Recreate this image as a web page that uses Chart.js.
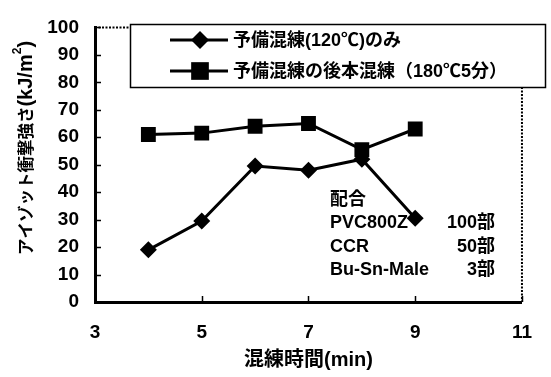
<!DOCTYPE html>
<html><head><meta charset="utf-8">
<script src="https://cdn.jsdelivr.net/npm/chart.js@4"></script>
<style>html,body{margin:0;padding:0;background:#fff}</style>
</head><body>
<canvas id="c" width="551" height="377" style="display:block;width:551px;height:377px"></canvas>
<script>
// ---- data ----
const mixTimes = [4, 5, 6, 7, 8, 9];
const preOnly  = [19, 29.5, 49.5, 48, 52, 30.5];
const preMain  = [61, 61.5, 64, 65, 55.5, 63];
const seriesNames = ["予備混練(120℃)のみ", "予備混練の後本混練（180℃5分）"];
const xTickValues = [3, 5, 7, 9, 11];
const yTickValues = [0, 10, 20, 30, 40, 50, 60, 70, 80, 90, 100];
const recipeTitle = "配合";
const recipeNames = ["PVC800Z", "CCR", "Bu-Sn-Male"];
const recipeParts = ["100部", "50部", "3部"];
const xTitle = "混練時間(min)";
const yTitleParts = ["アイゾット衝撃強さ", "(kJ/m", "2", ")"];

const FONT = "'Liberation Sans', Arial, 'Noto Sans CJK JP', sans-serif";
const CJK = "'Noto Sans CJK JP', sans-serif";

function pts(xs, ys) { return xs.map((x, i) => ({x: x, y: ys[i]})); }

const decor = {
  id: 'decor',
  afterDraw(chart) {
    const ctx = chart.ctx;
    const a = chart.chartArea;
    const xs = chart.scales.x, ys = chart.scales.y;
    ctx.save();
    // dotted top/right frame
    ctx.strokeStyle = '#000';
    ctx.lineWidth = 2;
    ctx.setLineDash([2, 1.5]);
    ctx.beginPath();
    ctx.moveTo(a.left, a.top);
    ctx.lineTo(a.right, a.top);
    ctx.lineTo(a.right, a.bottom);
    ctx.stroke();
    ctx.setLineDash([]);
    // inward ticks
    ctx.lineWidth = 1.5;
    ctx.beginPath();
    yTickValues.forEach(v => {
      const y = Math.round(ys.getPixelForValue(v)) + 0.5;
      ctx.moveTo(a.left, y); ctx.lineTo(a.left + 6, y);
    });
    xTickValues.forEach(v => {
      const x = Math.round(xs.getPixelForValue(v)) + 0.5;
      ctx.moveTo(x, a.bottom); ctx.lineTo(x, a.bottom - 6);
    });
    ctx.stroke();

    // y-axis title (rotated)
    ctx.fillStyle = '#000';
    ctx.textBaseline = 'middle';
    ctx.textAlign = 'left';
    const fonts = ["bold 16.5px " + CJK, "bold 20px " + FONT, "bold 12px " + FONT, "bold 20px " + FONT];
    const lifts = [0, 0, -8, 0];
    let widths = yTitleParts.map((t, i) => { ctx.font = fonts[i]; return ctx.measureText(t).width; });
    const total = widths.reduce((s, w) => s + w, 0);
    ctx.save();
    ctx.translate(25, 148);
    ctx.rotate(-Math.PI / 2);
    let px = -total / 2;
    yTitleParts.forEach((t, i) => {
      ctx.font = fonts[i];
      ctx.fillText(t, px, 1 + lifts[i]);
      px += widths[i];
    });
    ctx.restore();

    // legend box
    const lx = 130, ly = 24, lw = 415, lh = 63;
    ctx.fillStyle = '#fff';
    ctx.fillRect(lx, ly, lw, lh);
    ctx.lineWidth = 1.5;
    ctx.strokeStyle = '#000';
    ctx.strokeRect(lx + 0.5, ly + 0.5, lw, lh);
    const rows = [40, 71];
    const styles = ['rectRot', 'rect'];
    const radii = [9, 12.5];
    ctx.font = "bold 18px " + FONT;
    ctx.textBaseline = 'middle';
    ctx.textAlign = 'left';
    seriesNames.forEach((name, i) => {
      const y = rows[i];
      ctx.strokeStyle = '#000';
      ctx.lineWidth = 3;
      ctx.beginPath();
      ctx.moveTo(170, y); ctx.lineTo(228, y);
      ctx.stroke();
      ctx.fillStyle = '#000';
      Chart.helpers.drawPoint(ctx, {pointStyle: styles[i], radius: radii[i], borderWidth: 0}, 200, y);
      ctx.fillStyle = '#000';
      ctx.fillText(name, 233, y + 1);
    });

    // recipe annotation
    ctx.fillStyle = '#000';
    ctx.font = "bold 18px " + FONT;
    ctx.textAlign = 'left';
    ctx.fillText(recipeTitle, 330, 200);
    const ry = [223, 247, 270];
    recipeNames.forEach((n, i) => {
      ctx.textAlign = 'left';
      ctx.fillText(n, 330, ry[i]);
      ctx.textAlign = 'right';
      ctx.fillText(recipeParts[i], 495, ry[i]);
    });
    ctx.restore();
  }
};

new Chart(document.getElementById('c'), {
  type: 'line',
  data: {
    datasets: [
      {
        label: seriesNames[0],
        data: pts(mixTimes, preOnly),
        borderColor: '#000', backgroundColor: '#000',
        borderWidth: 3, pointStyle: 'rectRot', pointRadius: 8.5,
        pointBackgroundColor: '#000', pointBorderWidth: 0, tension: 0
      },
      {
        label: seriesNames[1],
        data: pts(mixTimes, preMain),
        borderColor: '#000', backgroundColor: '#000',
        borderWidth: 3, pointStyle: 'rect', pointRadius: 10.5,
        pointBackgroundColor: '#000', pointBorderWidth: 0, tension: 0
      }
    ]
  },
  options: {
    responsive: false,
    animation: false,
    events: [],
    layout: {padding: {top: 20, right: 8, left: 0, bottom: 0}},
    plugins: {legend: {display: false}, tooltip: {enabled: false}},
    scales: {
      x: {
        type: 'linear', min: 3, max: 11,
        afterBuildTicks(s) { s.ticks = xTickValues.map(v => ({value: v})); },
        afterFit(s) { s.height = 75; },
        grid: {display: false, drawTicks: false},
        border: {display: true, color: '#000', width: 3},
        ticks: {color: '#000', padding: 19, font: {family: FONT, size: 19, weight: 'bold'}, maxRotation: 0},
        title: {display: true, text: xTitle, color: '#000', padding: {top: 0, bottom: 5},
                font: {family: FONT, size: 20, weight: 'bold'}}
      },
      y: {
        type: 'linear', min: 0, max: 100,
        afterBuildTicks(s) { s.ticks = yTickValues.map(v => ({value: v})); },
        afterFit(s) { s.width = 95; },
        grid: {display: false, drawTicks: false},
        border: {display: true, color: '#000', width: 3},
        ticks: {color: '#000', padding: 16, font: {family: FONT, size: 19, weight: 'bold'}},
        title: {display: false}
      }
    }
  },
  plugins: [decor]
});
</script>
</body></html>
